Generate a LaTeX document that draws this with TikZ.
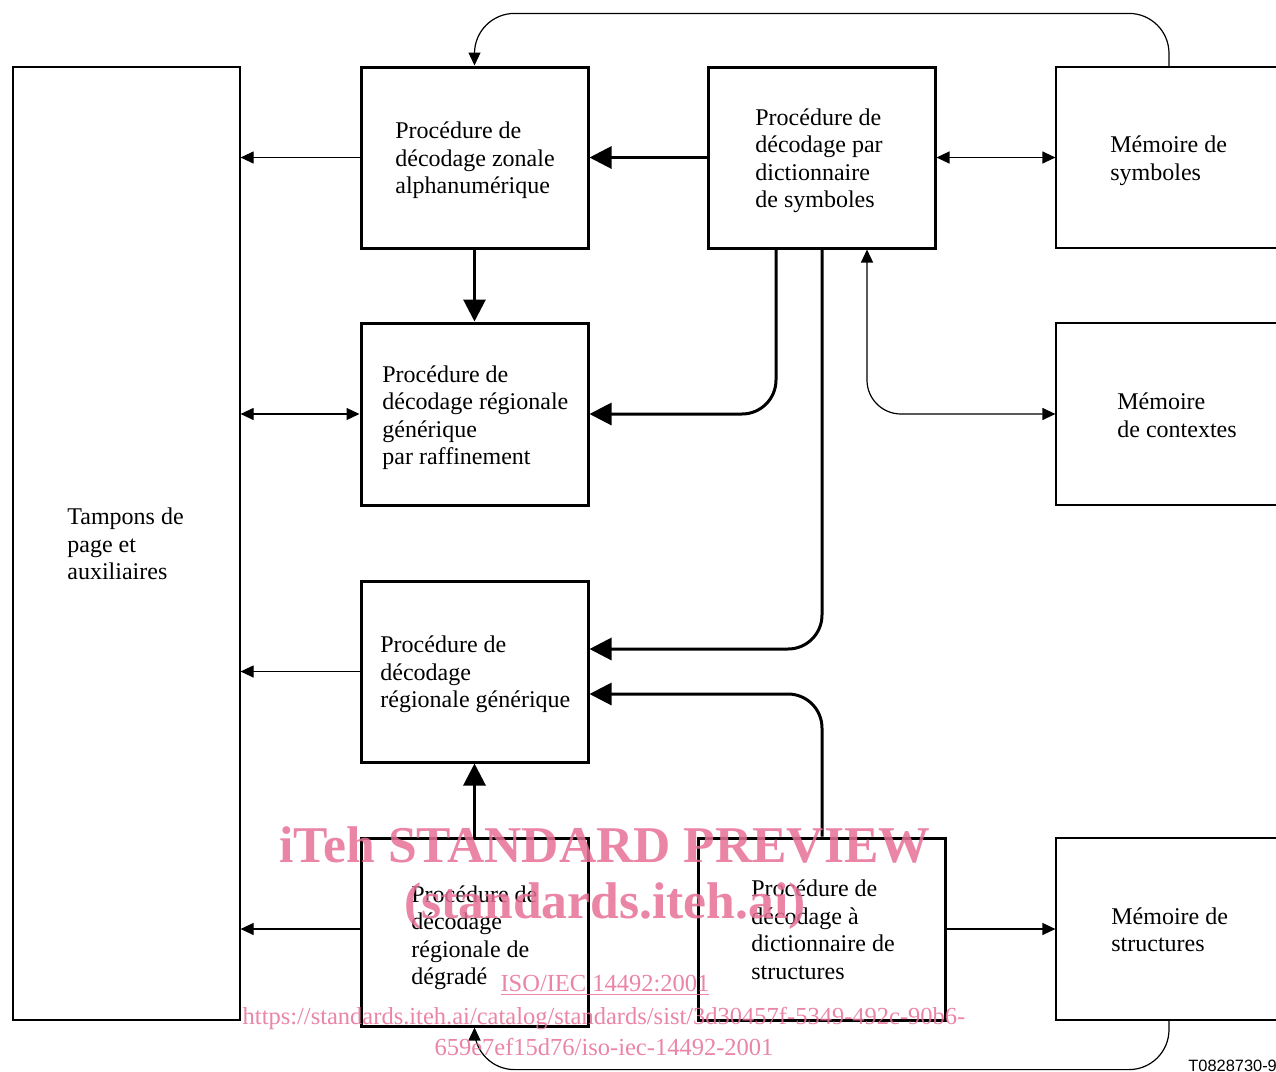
\documentclass[tikz,border=0pt]{standalone}
\usepackage{fontspec}
\setmainfont{Liberation Serif}
\newfontfamily\lsans{Liberation Sans}
\usetikzlibrary{arrows.meta}
\definecolor{wm}{RGB}{232,112,150}
\tikzset{
  pbox/.style={draw, line width=1.5pt, inner sep=0pt, minimum width=113.5pt},
  mbox/.style={draw, line width=0.6pt, inner sep=0pt},
  txt/.style={align=left, inner sep=0pt, anchor=west, font=\fontsize{12}{13.75}\selectfont},
  thinarr/.style={line width=0.6pt, -{Triangle[length=6.5pt,width=6pt]}},
  thinboth/.style={line width=0.6pt, {Triangle[length=6.5pt,width=6pt]}-{Triangle[length=6.5pt,width=6pt]}},
  thickarr/.style={line width=1.5pt, -{Triangle[length=11pt,width=11pt]}},
  wmtext/.style={text=wm, text opacity=0.85, inner sep=0pt, anchor=base},
}
\begin{document}
\begin{tikzpicture}[x=0.5pt,y=-0.5pt]
\clip (0,0) rectangle (1276,1072);
\fill[white] (0,0) rectangle (1276,1072);
% boxes
\node[mbox, minimum width=113.5pt, minimum height=476.5pt] (T) at (126.5,543.5) {};
\node[pbox, minimum height=90.5pt] (A) at (474.5,157.5) {};
\node[pbox, minimum height=90.5pt] (B) at (821.5,157.5) {};
\node[mbox, minimum width=120pt, minimum height=90.5pt] (MS) at (1176,157.5) {};
\node[pbox, minimum height=91pt] (C) at (474.5,414) {};
\node[mbox, minimum width=120pt, minimum height=91pt] (MC) at (1176,414) {};
\node[pbox, minimum height=90.5pt] (D) at (474.5,671.5) {};
\node[pbox, minimum height=94pt] (E) at (474.5,932) {};
\node[pbox, minimum width=123.5pt, minimum height=91pt] (F) at (821.5,929) {};
\node[mbox, minimum width=120pt, minimum height=91pt] (MST) at (1176,929) {};
% texts
\node[txt] (tT) at (67,544) {Tampons de\\page et\\auxiliaires};
\node[txt] (tA) at (395,160.5) {Procédure de\\décodage zonale\\alphanumérique};
\node[txt] (tB) at (755,160.5) {Procédure de\\décodage par\\dictionnaire\\de symboles};
\node[txt] (tMS) at (1110,160.5) {Mémoire de\\symboles};
\node[txt] (tC) at (382,417.5) {Procédure de\\décodage régionale\\générique\\par raffinement};
\node[txt] (tMC) at (1117,415.5) {Mémoire\\de contextes};
\node[txt] (tD) at (380,674.5) {Procédure de\\décodage\\régionale générique};
\node[txt] (tE) at (411,937.5) {Procédure de\\décodage\\régionale de\\dégradé};
\node[txt] (tF) at (751,930) {Procédure de\\décodage à\\dictionnaire de\\structures};
\node[txt] (tMST) at (1111,930) {Mémoire de\\structures};
% connectors
\draw[thinarr] (A.west) -- (A.west -| T.east);
\draw[thickarr] (B.west) -- (A.east);
\draw[thinboth] (B.east) -- (MS.west);
\draw[thickarr] (A.south) -- (C.north);
\draw[thinboth] (T.east |- C.west) -- (C.west);
\draw[thickarr, rounded corners=17pt] ([xshift=-22.75pt]B.south) |- (C.east);
\draw[thickarr, rounded corners=17pt] ([xshift=0.25pt]B.south) |- ([yshift=11.25pt]D.east);
\draw[thinboth, rounded corners=17pt] (MC.west) -| ([xshift=22.75pt]B.south);
\draw[thinarr] (D.west) -- (D.west -| T.east);
\draw[thickarr] (E.north) -- (D.south);
\draw[thickarr, rounded corners=17pt] ([xshift=0.25pt]F.north) |- ([yshift=-11.25pt]D.east);
\draw[thinarr] (E.west |- F.east) -- (T.east |- F.east);
\draw[thinarr] (F.east) -- (MST.west);
\draw[thinarr, rounded corners=20pt] ([xshift=-3.5pt]MS.north) -- ++(0,-53) -| (A.north);
\draw[thinarr, rounded corners=20pt] ([xshift=-3.5pt]MST.south) -- ++(0,49) -| (E.south);
% reference label
\node[inner sep=0pt, anchor=base west, font=\lsans\fontsize{8.2}{9}\selectfont] (ref) at (1188,1071) {T0828730-99};
% watermark
\node[wmtext, font=\bfseries\fontsize{25.8}{28}\selectfont] (w1) at (605,862) {iTeh STANDARD PREVIEW};
\node[wmtext, font=\bfseries\fontsize{25.8}{28}\selectfont] (w2) at (605,918) {(standards.iteh.ai)};
\node[wmtext, font=\fontsize{12.25}{14}\selectfont] (w3) at (605,991) {\underline{ISO/IEC 14492:2001}};
\node[wmtext, font=\fontsize{12.25}{14}\selectfont] (w4) at (604,1024) {https://standards.iteh.ai/catalog/standards/sist/3d30457f-5349-492c-90b6-};
\node[wmtext, font=\fontsize{12.25}{14}\selectfont] (w5) at (604,1055) {659e7ef15d76/iso-iec-14492-2001};
\end{tikzpicture}
\end{document}
